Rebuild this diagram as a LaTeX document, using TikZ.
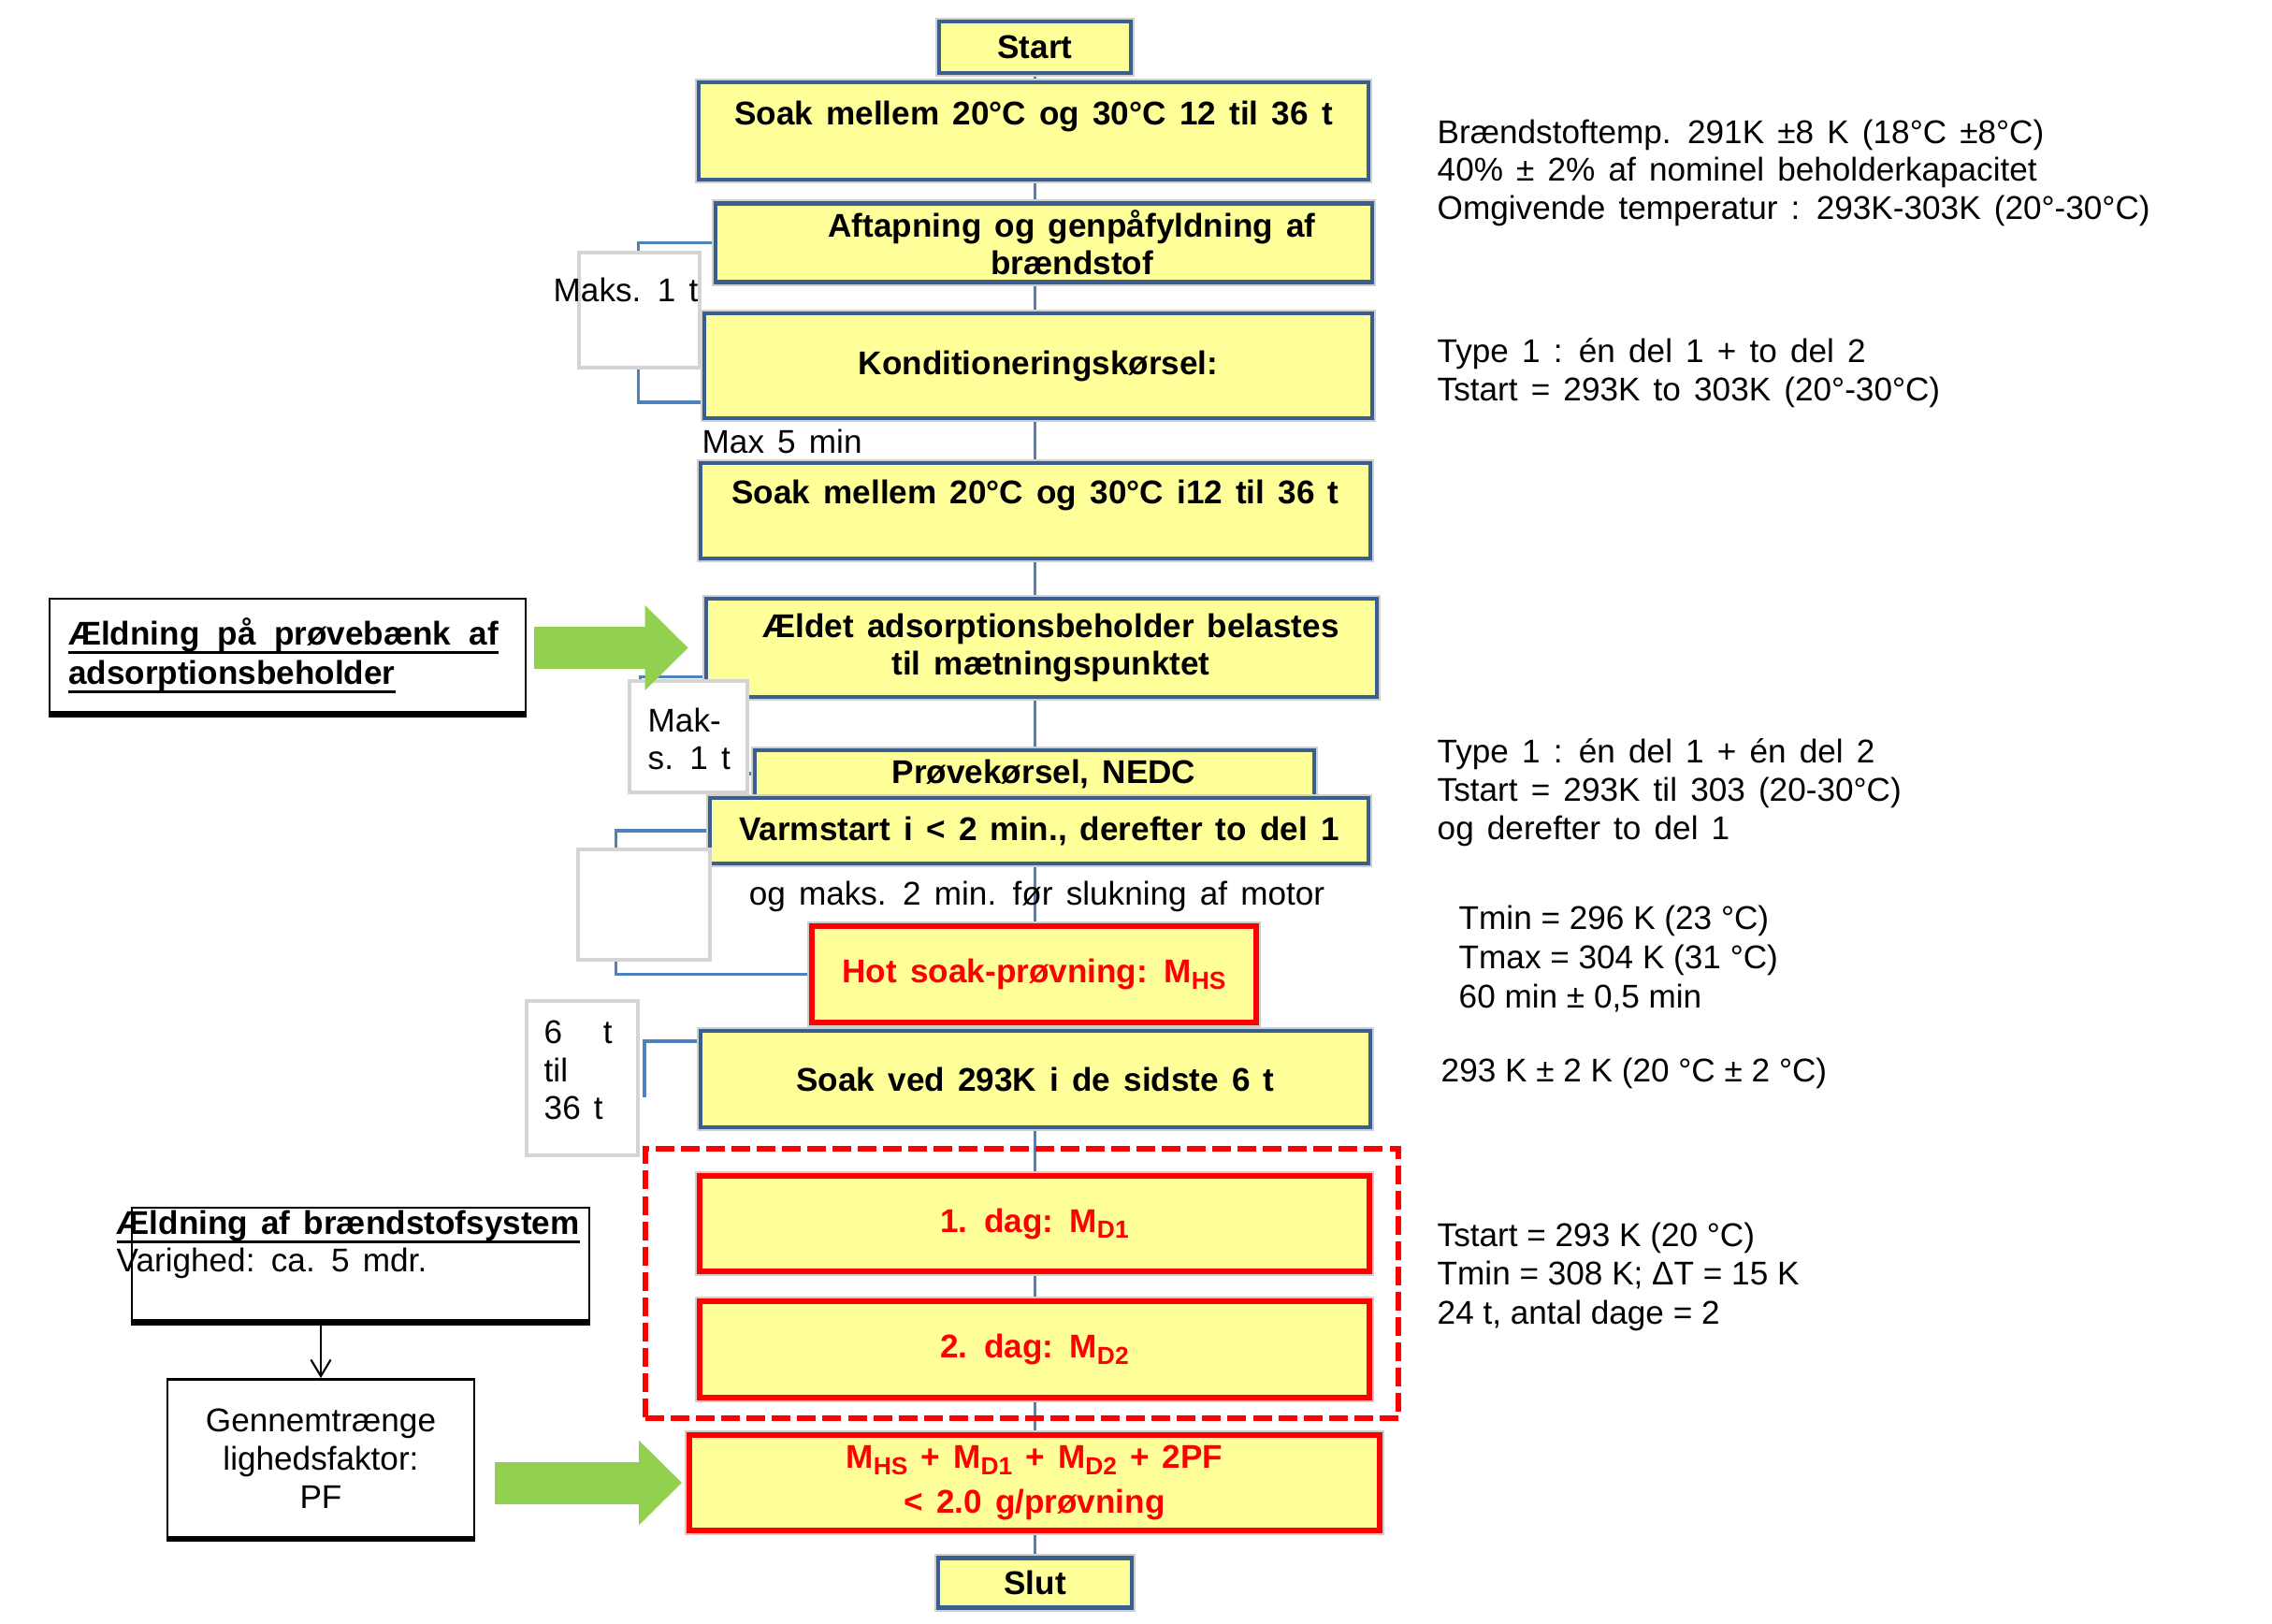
\documentclass[tikz,border=0pt]{standalone}
\usepackage{fontspec}
\setmainfont{Liberation Sans}[WordSpace=1.45]
\newfontfamily\tightfont{Liberation Sans}
\usetikzlibrary{positioning,arrows.meta,backgrounds}
\definecolor{boxfill}{HTML}{FFFF99}
\definecolor{boxblue}{HTML}{3A5F8F}
\definecolor{linkblue}{HTML}{4F81BD}
\definecolor{hotred}{HTML}{FF0000}
\definecolor{arrowgreen}{HTML}{92D050}
\definecolor{tagline}{HTML}{D4D4D4}
\definecolor{shade}{HTML}{CFCFCF}

\newsavebox{\underbox}
\newcommand{\thickunder}[1]{\leavevmode\sbox{\underbox}{#1}\rlap{\rule[-2.8pt]{\wd\underbox}{1pt}}\usebox{\underbox}}
\newcommand{\lowsub}[1]{\raisebox{-1.9pt}{\fontsize{7.5}{8}\selectfont #1}}

\tikzset{
  stage/.style={draw=boxblue, line width=1.3pt, fill=boxfill, align=center, inner sep=2pt,
    preaction={draw=shade, line width=2.5pt},
    font=\fontsize{10}{11.5}\selectfont\bfseries},
  redstage/.style={stage, draw=hotred, line width=1.7pt, text=hotred,
    preaction={draw=shade, line width=2.9pt}},
  link/.style={linkblue, line width=0.9pt},
  tagbox/.style={draw=tagline, line width=1pt, fill=white, inner sep=0pt},
  sidebox/.style={draw=black, line width=0.8pt, fill=white, inner sep=0pt},
  sidenote/.style={align=left, anchor=north west, inner sep=0pt, font=\fontsize{10}{11.6}\selectfont},
  greenarrow/.style={arrowgreen, line width=0.45cm, -{Triangle[length=0.46cm,width=0.88cm]}},
}

\begin{document}
\begin{tikzpicture}[font=\fontsize{10}{11.6}\selectfont]
\useasboundingbox (0,0) rectangle (24.29,-17.35);

% main column
\node[stage, minimum width=2.05cm, minimum height=0.55cm] (start) at (11.065,-0.505) {Start};
\node[stage, minimum width=7.16cm, minimum height=1.04cm, text height=0.386cm, text depth=0.514cm] (soakA) at (11.05,-1.40) {Soak mellem 20°C og 30°C 12 til 36 t};
\node[stage, minimum width=7.02cm, minimum height=0.75cm] (drain) at (11.16,-2.595) {\hspace*{0.6cm}Aftapning og genpåfyldning af\\\hspace*{0.6cm}brændstof};
\node[stage, minimum width=7.14cm, minimum height=1.12cm] (cond) at (11.10,-3.91) {Konditioneringskørsel:};
\node[anchor=west, inner sep=0pt] (maxfive) at (7.50,-4.72) {Max 5 min};
\node[stage, minimum width=7.16cm, minimum height=1.02cm, text height=0.36cm, text depth=0.52cm] (soakB) at (11.07,-5.46) {Soak mellem 20°C og 30°C i12 til 36 t};
\node[stage, minimum width=7.17cm, minimum height=1.05cm] (aged) at (11.135,-6.925) {\hspace*{0.2cm}Ældet adsorptionsbeholder belastes\\\hspace*{0.2cm}til mætningspunktet};
\node[stage, minimum width=5.98cm, minimum height=0.50cm] (drive) at (11.06,-8.27) {\hspace*{0.2cm}Prøvekørsel, NEDC};
\node[stage, minimum width=7.04cm, minimum height=0.70cm] (warm) at (11.11,-8.88) {Varmstart i < 2 min., derefter to del 1};
\node[inner sep=0pt] (stopnote) at (11.085,-9.58) {og maks. 2 min. før slukning af motor};
\node[redstage, minimum width=4.75cm, minimum height=1.03cm] (hot) at (11.055,-10.415) {Hot soak-prøvning: M\lowsub{HS}};
\node[stage, minimum width=7.16cm, minimum height=1.03cm] (soakC) at (11.07,-11.535) {Soak ved 293K i de sidste 6 t};
\node[draw=hotred, line width=1.7pt, dash pattern=on 5.7pt off 2pt, minimum width=8.05cm, minimum height=2.88cm] (daysframe) at (10.925,-13.72) {};
\node[redstage, minimum width=7.16cm, minimum height=1.02cm] (day1) at (11.06,-13.08) {1. dag: M\lowsub{D1}};
\node[redstage, minimum width=7.16cm, minimum height=1.03cm] (day2) at (11.06,-14.425) {2. dag: M\lowsub{D2}};
\node[redstage, minimum width=7.38cm, minimum height=1.02cm] (total) at (11.06,-15.85) {M\lowsub{HS} + M\lowsub{D1} + M\lowsub{D2} + 2PF\\[2pt]< 2.0 g/prøvning};
\node[stage, minimum width=2.07cm, minimum height=0.53cm] (slut) at (11.065,-16.92) {Slut};

% connectors behind the boxes
\begin{pgfonlayer}{background}
  \foreach \a/\b in {start/soakA, soakA/drain, drain/cond, cond/soakB, soakB/aged, aged/drive,
      warm/hot, hot/soakC, soakC/day1, day1/day2, day2/total, total/slut}
    \draw[link] (\a.south -| start) -- (\b.north -| start);
  \draw[link] (drain.west) -- ++(-0.80,0) |- ([yshift=-0.39cm]cond.west);
  \draw[link] ([yshift=-0.31cm]aged.west) -- ++(-0.68,0) |- (drive.west);
  \draw[link] (warm.west) -- ++(-0.98,0) |- (hot.west);
  \coordinate (soakCend) at (6.89,-11.73);
  \draw[link] ([yshift=0.405cm]soakC.west) -| (soakCend);
\end{pgfonlayer}

% time boxes on the left of the column
\node[tagbox, minimum width=1.29cm, minimum height=1.23cm] (waitA) at (6.835,-3.315) {};
\node[anchor=east, inner sep=0pt] (waitAtext) at (7.47,-3.10) {Maks. 1 t};
\node[tagbox, minimum width=1.26cm, minimum height=1.19cm] (waitB) at (7.36,-7.875) {};
\node[sidenote] (waitBtext) at (6.92,-7.56) {Mak-\\s. 1 t};
\node[tagbox, minimum width=1.41cm, minimum height=1.18cm] (gapbox) at (6.885,-9.67) {};
\node[tagbox, minimum width=1.19cm, minimum height=1.65cm] (waitC) at (6.225,-11.525) {};
\node[sidenote] (waitCtext) at (5.81,-10.90) {6\phantom{6}\hspace{0.1cm} t\\til\\36 t};

% left inputs
\node[sidebox, minimum width=5.09cm, minimum height=1.22cm, text width=4.69cm, font=\bfseries] (bench) at (3.075,-7.01) {\thickunder{\makebox[4.6cm][s]{Ældning\hfill på\hfill prøvebænk\hfill af}}\\\thickunder{adsorptionsbeholder}};
\draw[line width=2pt] (bench.south west) -- (bench.south east);
\draw[greenarrow, shorten <=0.08cm, shorten >=0.17cm] (bench.east |- aged.west) -- (aged.west);

\node[sidebox, minimum width=4.89cm, minimum height=1.21cm] (fuelbox) at (3.855,-13.515) {};
\draw[line width=1.8pt] (fuelbox.south west) -- (fuelbox.south east);
\node[sidenote] (fueltext) at (1.24,-12.93) {\thickunder{\bfseries Ældning af brændstofsystem}\\Varighed: ca. 5 mdr.};
\node[sidebox, minimum width=3.28cm, minimum height=1.69cm, align=center] (pfbox) at (3.43,-15.59) {Gennemtrænge\\lighedsfaktor:\\PF};
\draw[line width=1.8pt] (pfbox.south west) -- (pfbox.south east);
\draw[-{Straight Barb[length=5pt,width=6pt]}, line width=0.6pt] (pfbox.north |- fuelbox.south) -- (pfbox.north);
\draw[greenarrow, shorten <=0.21cm, shorten >=0.05cm] (pfbox.east |- total.west) -- (total.west);

% conditions on the right
\node[sidenote] (fuelnote) at (15.36,-1.27) {Brændstoftemp. 291K ±8 K (18°C ±8°C)\\40\% ± 2\% af nominel beholderkapacitet\\Omgivende temperatur : 293K-303K (20°-30°C)};
\node[sidenote] (condnote) at (15.36,-3.61) {Type 1 : én del 1 + to del 2\\Tstart = 293K to 303K (20°-30°C)};
\node[sidenote] (drivenote) at (15.36,-7.89) {Type 1 : én del 1 + én del 2\\Tstart = 293K til 303 (20-30°C)\\og derefter to del 1};
\node[sidenote, font=\fontsize{10}{12}\tightfont] (hotnote) at (15.59,-9.67) {Tmin = 296 K (23 °C)\\Tmax = 304 K (31 °C)\\60 min ± 0,5 min};
\node[sidenote, font=\fontsize{10}{12}\tightfont] (soaknote) at (15.40,-11.30) {293 K ± 2 K (20 °C ± 2 °C)};
\node[sidenote, font=\fontsize{10}{11.8}\tightfont] (daynote) at (15.36,-13.06) {Tstart = 293 K (20 °C)\\Tmin = 308 K; ΔT = 15 K\\24 t, antal dage = 2};
\end{tikzpicture}
\end{document}
